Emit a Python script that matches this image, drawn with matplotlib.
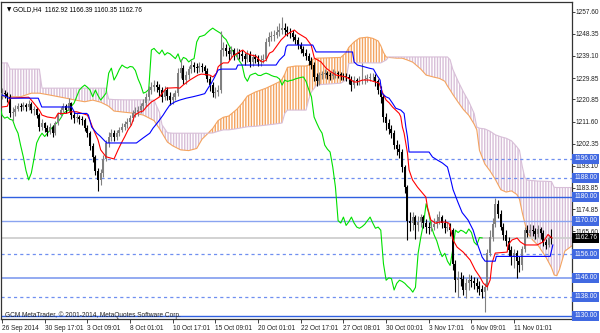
import numpy as np
import matplotlib
matplotlib.use("Agg")
import matplotlib.pyplot as plt
import matplotlib.transforms as mtransforms

# GOLD,H4 candles, one value per bar (bar 0 = 26 Sep 2014)
close = [
    1223.5, 1223, 1222, 1215, 1215.5, 1217, 1218, 1217.5, 1218.5, 1217.5,
    1219, 1216.4, 1216.7, 1214.3, 1209.4, 1210.9, 1208.8, 1207.4, 1209.4, 1206.7,
    1210.9, 1214.3, 1216.4, 1218, 1216.4, 1219.3, 1214.3, 1213, 1213.5, 1212.5,
    1212.2, 1209, 1206.7, 1201.5, 1196.7, 1191, 1187.1, 1190, 1196, 1202.6,
    1205, 1206.7, 1205.3, 1206.7, 1208, 1209.3, 1210.5, 1211.4, 1213, 1215,
    1215.8, 1216.4, 1218, 1219.3, 1222, 1224.8, 1226, 1226.9, 1226, 1224.8,
    1222, 1224.8, 1222.5, 1220.6, 1222, 1223.5, 1231.9, 1234, 1229, 1231,
    1233.5, 1235.3, 1234.5, 1234, 1234.7, 1234.5, 1233, 1229.5, 1226.9, 1223.5,
    1224, 1225, 1241.6, 1242.3, 1241, 1240, 1241.6, 1239.5, 1240.5, 1240,
    1239, 1238, 1240, 1236.6, 1238.5, 1238, 1236.6, 1237.5, 1238, 1245,
    1247.2, 1247.5, 1247.9, 1249, 1250, 1250.8, 1250, 1249.3, 1248.6, 1247,
    1246, 1243.7, 1242, 1240.5, 1239, 1237, 1235.3, 1230.3, 1228.5, 1231,
    1231.5, 1231.9, 1231, 1230.9, 1231.5, 1231.9, 1231.5, 1230.9, 1230.5, 1230.3,
    1229.5, 1226.9, 1229, 1228.4, 1228.8, 1229, 1229.5, 1229.8, 1230.1, 1230.3,
    1228.4, 1225, 1222, 1213.5, 1210.9, 1208.5, 1206.7, 1201.7, 1200, 1198.8,
    1192.5, 1184.1, 1170, 1169, 1171.5, 1168, 1169.5, 1171.5, 1169, 1167.3,
    1166.8, 1167.5, 1168.5, 1170, 1171.5, 1169, 1166.8, 1167.3, 1166, 1152,
    1145, 1146, 1145.7, 1140.9, 1143.7, 1145, 1144.5, 1143.7, 1142.5, 1141.5,
    1140, 1142, 1156.3, 1163, 1168.7, 1177.1, 1173, 1167.3, 1164, 1161.5,
    1157.7, 1154.9, 1156.3, 1153, 1151.2, 1158, 1166, 1165, 1166, 1165.5,
    1164.6, 1166.5, 1165, 1161, 1159.8, 1162.92, 1162.76,
]
high = [
    1225.5, 1225, 1224, 1223, 1217.5, 1218.5, 1219.5, 1219.5, 1220, 1219.5,
    1220.5, 1220, 1218, 1217.5, 1215, 1212.5, 1211.5, 1210, 1211, 1210,
    1212, 1215.5, 1217.5, 1219.5, 1219, 1221.5, 1220, 1215.5, 1215, 1214.5,
    1214, 1213, 1210, 1207.5, 1202.5, 1197.5, 1192, 1191.5, 1197.5, 1204,
    1207, 1208.5, 1208, 1208, 1209.5, 1211, 1212, 1213, 1214.5, 1216.5,
    1217.5, 1218, 1219.5, 1221, 1223.5, 1226.5, 1228, 1229, 1228.5, 1227.5,
    1226, 1226.5, 1226, 1224, 1223.5, 1225, 1234, 1238, 1235.5, 1233,
    1235, 1237.5, 1236.5, 1236, 1236.5, 1236, 1235.5, 1234, 1230.5, 1228,
    1226, 1227, 1249.5, 1245, 1244, 1243, 1243.5, 1242.5, 1242.5, 1242,
    1241.5, 1240.5, 1241.5, 1241, 1240, 1240, 1239.5, 1239.5, 1240, 1246.5,
    1249, 1249.5, 1250, 1251.5, 1253, 1255.5, 1253, 1251.5, 1251, 1250,
    1248.5, 1247, 1245, 1243.5, 1242, 1240.5, 1238.5, 1236.5, 1232, 1232.5,
    1233, 1233.5, 1233, 1232.5, 1233.5, 1233, 1233, 1232.5, 1232, 1232,
    1231.5, 1230.5, 1230.5, 1230, 1230.5, 1236, 1231, 1231.5, 1232, 1232,
    1231.5, 1229.5, 1226.5, 1223, 1215, 1212.5, 1210, 1208, 1204, 1202,
    1200, 1193.5, 1185, 1173.5, 1173.5, 1172.5, 1172, 1173, 1172.5, 1170.5,
    1169.5, 1170, 1171, 1173, 1174, 1172.5, 1170.5, 1169.5, 1169, 1167,
    1153.5, 1149, 1148.5, 1147, 1146, 1147.5, 1147, 1146.5, 1146, 1144.5,
    1143, 1144, 1158, 1166, 1171, 1179.5, 1178.5, 1174.5, 1169, 1166,
    1163, 1159.5, 1158, 1157.5, 1155, 1159.5, 1167.5, 1168, 1168.5, 1168,
    1167, 1168, 1167.5, 1166, 1162.5, 1163.5, 1166.39,
]
low = [
    1221, 1221.5, 1220, 1213.5, 1212, 1214, 1216, 1216, 1216.5, 1216,
    1216.5, 1215, 1214.5, 1213, 1207.5, 1208, 1207, 1205.5, 1206.5, 1205,
    1206, 1210, 1213.5, 1215.5, 1215, 1215.5, 1212.5, 1211, 1211.5, 1210.5,
    1210, 1207.5, 1205, 1199.5, 1194.5, 1189, 1182.5, 1185, 1188.5, 1195,
    1201, 1203.5, 1203.5, 1204, 1205.5, 1207, 1208, 1209, 1210, 1212,
    1213.5, 1214, 1215, 1216.5, 1218, 1220.5, 1223, 1224.5, 1224, 1222.5,
    1220, 1220.5, 1220.5, 1218.5, 1219, 1220.5, 1222.5, 1230, 1227.5, 1227.5,
    1229.5, 1232, 1232.5, 1232, 1232.5, 1232.5, 1231, 1228, 1224.5, 1222,
    1221.5, 1222.5, 1223.5, 1239, 1239, 1237.5, 1238.5, 1237.5, 1238, 1238,
    1237, 1235.5, 1236.5, 1234.5, 1235, 1236, 1235, 1235, 1236, 1237,
    1243.5, 1245.5, 1245.5, 1246.5, 1247.5, 1248.5, 1248, 1247.5, 1246.5, 1245.5,
    1244, 1242, 1240.5, 1239, 1237.5, 1235.5, 1233.5, 1228.5, 1226.5, 1227,
    1229.5, 1230, 1229.5, 1229, 1229.5, 1230, 1230, 1229, 1229, 1228.5,
    1227.5, 1224.5, 1225.5, 1227, 1227, 1227.5, 1227.5, 1228, 1228.5, 1228.5,
    1226.5, 1223, 1219.5, 1211.5, 1208, 1206.5, 1204.5, 1200, 1197.5, 1196.5,
    1190.5, 1181.5, 1162, 1165.5, 1166, 1162.5, 1165.5, 1167.5, 1167, 1165,
    1164.5, 1165.5, 1166, 1167, 1168.5, 1167, 1165, 1165.5, 1163.5, 1149.5,
    1140, 1138, 1142.5, 1139, 1137.5, 1141, 1142, 1141.5, 1140, 1139,
    1137.5, 1131.5, 1141, 1155, 1161.5, 1167.5, 1171, 1166, 1162, 1159.5,
    1155, 1151.5, 1150, 1146, 1148.5, 1149.5, 1157, 1163, 1163.5, 1163.5,
    1162.5, 1163, 1162.5, 1159.5, 1158, 1159, 1160.35,
]
first_open = 1222.5

# Tenkan-sen (red) and Kijun-sen (blue), read as (bar, price) vertices
tenkan_bar = [0, 2, 3, 10, 11, 14, 15, 17, 20, 21, 24, 26, 28, 30, 32, 33, 34, 36, 37, 39,
              42, 43.5, 44.75, 46, 47.25, 48.5, 49.75, 51.6, 52.9, 54.1, 56, 57.25, 59.1, 60.4, 61.6, 65.4,
              66.6, 67.9, 69.1, 70.4, 71.6, 73.5, 74.75, 76.6, 77.9, 79.1, 80.4, 81, 81.6, 82.9, 84.75,
              86.5, 89, 90.25, 91.5, 93.4, 95.25, 96.5, 97.75, 99, 100.25, 101.5, 102.75, 104.6, 106.5,
              108.4, 109.6, 110.9, 112.1, 114, 115.9, 117.1, 118.4, 119.6, 121.5, 123.4, 125.25, 127.1,
              128.9, 130.1, 132, 133.25, 135.1, 137.6, 140, 141.4, 142.75, 144, 145.1, 146.4, 147.6,
              148.9, 149.5, 150.1, 150.75, 152, 152.6, 153.9, 155.75, 157.6, 158.9, 159.5, 160.75, 162.6,
              163.9, 166.4, 167.6, 169.1, 170.6, 172.9, 175.5, 177.4, 179.2, 180.4, 181.9, 183, 183.7,
              184.9, 189.4, 189.7, 191.2, 193.1, 194.3, 196.1, 200.6, 202.9, 204.7, 206.2]
tenkan_val = [1217.7, 1218, 1221.4, 1221.8, 1220.6, 1216.4, 1214.3, 1213.5, 1213, 1215, 1215, 1215.7,
              1215.7, 1215, 1214.3, 1212, 1209, 1203.9, 1199.7, 1196.8,
              1195.9, 1199.7, 1202.6, 1205.2, 1208.1, 1210.1, 1214.3, 1215.6, 1216, 1217.7, 1219.8, 1220.6,
              1222, 1224, 1225.6, 1225.8,
              1225.6, 1226.9, 1227.9, 1229, 1229.8, 1231.1, 1231.5, 1231.3, 1231.1, 1230.3, 1231.9, 1234.5,
              1235.2, 1236.2, 1236.2,
              1239, 1240.8, 1241.6, 1240.3, 1239.5, 1239, 1237.4, 1236.6, 1237.4, 1240.3, 1241, 1242.9,
              1245.8, 1247.9,
              1249.2, 1250, 1248.7, 1247.9, 1246.6, 1243.7, 1238.2, 1237.4, 1236.6, 1234, 1232.4, 1231.1,
              1230.7,
              1230.3, 1229.6, 1228.2, 1228.2, 1229, 1229, 1228.2, 1227.7, 1223.5, 1220.6, 1219.5, 1217.7,
              1216.4,
              1215, 1213.6, 1209.3, 1206.7, 1198.4, 1191.3, 1187.1, 1184.1, 1181.6, 1179.9, 1175.7, 1170.3,
              1168.9,
              1169.4, 1169.4, 1168.9, 1161.9, 1158.9, 1156.8, 1153.5, 1149.3, 1146.3, 1143.8, 1142.2, 1145.1,
              1152.2,
              1156.4, 1156.8, 1159.8, 1161.9, 1162.7, 1161.1, 1159.8, 1159.8, 1161.1, 1164.2, 1162.7]
kijun_bar = [0, 1.75, 2.5, 13.6, 14.9, 26.1, 27.4, 31.75, 32.4, 33.6, 35.5, 36.75, 39.25, 50.4,
             52.9, 55.4, 56.6, 58.5, 60.4, 61.6, 62.9, 64.75, 66.6, 69.1, 71.6, 74.1, 76, 77.25, 78.5,
             79.75, 81, 82.25, 87.75, 88.4, 102.75, 104, 105.9, 106.5, 107.1, 116.5, 117.75, 131.4,
             132, 133.25, 135.1, 137.6, 139.25, 140.5, 141.75, 142.4, 143.9, 145.1, 146.4, 147.6, 149.5,
             150.75, 151.4, 152, 152.6, 160.1, 161.4, 163.25, 165.1, 167, 168.25, 169.1, 171, 172.5,
             174.7, 176.6, 178.1, 180, 181.1, 184.9, 185.3, 205.5, 206.5]
kijun_val = [1222.7, 1222, 1221.4, 1221.4, 1217.7, 1217.7, 1215, 1215, 1214.3, 1209.3, 1206.7, 1205.5,
             1202.6, 1202.6,
             1204.7, 1206.7, 1208.8, 1211.4, 1214.3, 1216.4, 1218.5, 1219.8, 1220.6, 1221.4, 1222, 1222.7,
             1223.3, 1225.6, 1227.7,
             1230.3, 1233.2, 1233.6, 1233.6, 1235.3, 1235.3, 1237.4, 1239.5, 1242.9, 1243.7, 1243.7,
             1240.8, 1240.8,
             1236.6, 1235.3, 1234.8, 1234, 1233.6, 1231.1, 1229, 1223.5, 1222, 1221.4, 1219.3, 1217.2,
             1216.4,
             1215, 1209.3, 1205.2, 1198.8, 1198.8, 1196.7, 1195.4, 1194.2, 1192.5, 1187.1, 1183, 1177.5,
             1173.4,
             1170.3, 1166.1, 1160.6, 1154.7, 1153, 1153, 1155, 1155, 1159.8]

# Senkou span A / B (cloud), read at shared bar positions
cloud_bar = [0, 2, 3, 7, 11, 14, 15, 18, 24, 27, 31, 34, 37, 39, 40, 42, 46, 50, 53, 57,
             58, 59, 60, 62, 64, 67, 70, 73, 75, 77, 79, 81, 83, 85, 88, 90, 92, 95, 99, 102,
             104, 105, 106, 107, 110, 114, 115, 116, 118, 122, 127, 129, 130, 132, 134, 137, 139, 141, 142, 143,
             144, 145, 148, 150, 152, 154, 157, 159, 162, 164, 166, 167, 168, 169, 171, 173, 175, 177, 178, 179,
             181, 183, 185, 187, 189, 191, 193, 194, 195, 196, 197, 199, 201, 204, 206, 207, 208, 209, 211, 213.6]
span_a = [1222, 1222, 1222, 1222, 1223.5, 1223.5, 1223.3, 1222.7, 1221.4, 1220.7, 1219.9, 1220.6, 1219.7,
          1218.6, 1218, 1216, 1215.5, 1215, 1214.3, 1212,
          1210.3, 1208.7, 1206.8, 1203, 1201.4, 1199.7, 1199.4, 1200.3, 1204.2, 1206.4, 1208.7, 1212, 1213.4,
          1213.9, 1216.7, 1219.2, 1222.3, 1224, 1225.6, 1227.2,
          1228.3, 1229.4, 1231.5, 1234.3, 1234.9, 1234.9, 1235.3, 1237.5, 1238.2, 1238.3, 1238.5, 1240.5,
          1242.7, 1245, 1246.6, 1247, 1246.5, 1245.4, 1243.4, 1240.6,
          1238.7, 1238.5, 1238.2, 1238.2, 1237.4, 1236.5, 1233.6, 1231.1, 1230.2, 1229.7, 1228.5, 1226.5,
          1224.8, 1223, 1219.7, 1216.6, 1214.2, 1210.5, 1208.1, 1199.5,
          1193.8, 1190.8, 1187.2, 1183, 1182, 1182.5, 1181, 1179, 1173.6, 1169, 1164.8, 1161.8, 1159.6,
          1154.5, 1150.3, 1147.2, 1146.9, 1149.5, 1157.2, 1159.4]
span_b = [1236.2, 1236.2, 1233.6, 1233.6, 1233.6, 1233.6, 1225.6, 1225.6, 1225.6, 1225.6, 1225.6, 1225.6,
          1225.6, 1225.6, 1221, 1220.8, 1220.7, 1220.7, 1220.7, 1220.6,
          1218, 1215.5, 1210.2, 1206.9, 1206.7, 1206.7, 1206.7, 1206.7, 1206.7, 1206.7, 1206.8, 1207.5,
          1208.1, 1208.1, 1208.6, 1209, 1209.4, 1209.6, 1210.1, 1210.5,
          1210.8, 1211, 1215, 1216.4, 1216.4, 1216.4, 1221, 1224, 1227, 1227.3, 1227.7, 1229, 1236, 1236.2,
          1236.2, 1236.2, 1236.2, 1236.2, 1236.2, 1236.8,
          1237.4, 1238.7, 1238.7, 1238.7, 1238.7, 1238.7, 1238.7, 1238.7, 1238.7, 1238.7, 1238.7, 1238.7,
          1237.5, 1233.5, 1228.5, 1224, 1220, 1215, 1209.3, 1208.8,
          1208.5, 1207.5, 1206, 1205.2, 1204.6, 1203.5, 1201, 1199.5, 1193, 1188, 1187, 1186.8, 1186.6,
          1186.5, 1186.4, 1184, 1183.9, 1183.9, 1183.9, 1183.9]
chikou_shift = 26

# horizontal levels drawn on the chart
solid_levels = [1180, 1170, 1146, 1130]
dashed_levels = [1196, 1188, 1156, 1138]
bid_price = 1162.76
scale_labels = [1257.60, 1248.35, 1239.10, 1229.85, 1220.85, 1211.60, 1202.35, 1193.10,
                1183.85, 1174.85, 1165.60, 1147.10]

date_bars = [0, 16, 32, 48, 64, 80, 96, 112, 128, 144, 160, 176, 192]
date_labels = ["26 Sep 2014", "30 Sep 17:01", "3 Oct 09:01", "8 Oct 01:01", "10 Oct 17:01",
               "15 Oct 09:01", "20 Oct 01:01", "22 Oct 17:01", "27 Oct 08:01", "30 Oct 00:01",
               "3 Nov 17:01", "6 Nov 09:01", "11 Nov 01:01"]

plt.rcParams['font.family'] = ['Liberation Sans', 'DejaVu Sans']
FS = 4.7

fig = plt.figure(figsize=(6, 3.33), dpi=100)
ax = fig.add_axes([1 / 600, 1 - 319 / 333, 570.5 / 600, 317 / 333])
ax.set_xlim(-0.375, 213.5)
ax.set_ylim(1128.73, 1261.76)

c = np.array(close)
h = np.array(high)
l = np.array(low)
o = np.concatenate([[first_open], c[:-1]])
bars = np.arange(len(c))

# cloud
cb = np.array(cloud_bar)
sa = np.array(span_a)
sb = np.array(span_b)
ax.fill_between(cb, sa, sb, where=sa >= sb, interpolate=True, facecolor='none',
                edgecolor='#f4a460', hatch='||||||', linewidth=0, zorder=1)
ax.fill_between(cb, sa, sb, where=sa < sb, interpolate=True, facecolor='none',
                edgecolor='#d8bfd8', hatch='||||||', linewidth=0, zorder=1)
ax.plot(cb, sa, color='#f4a460', lw=0.8, zorder=2)
ax.plot(cb, sb, color='#d8bfd8', lw=0.8, zorder=2)

# levels
for lv in solid_levels:
    col = '#3060e0' if lv in (1180, 1130) else '#8aa4f0'
    ax.axhline(lv, color=col, lw=1.3 if lv == 1146 else 1.0, zorder=2)
for lv in dashed_levels:
    ax.axhline(lv, color='#6f8ff0', lw=0.9, ls=(0, (2.5, 2.5)), zorder=2)
ax.axhline(bid_price, color='#cfcfcf', lw=1.3, zorder=2)

# chikou span
ax.plot(bars - chikou_shift, c, color='#00e000', lw=0.8, zorder=3)

# candles
bull = c >= o
for up, col in ((True, '#808080'), (False, '#000000')):
    m = bull == up
    ax.vlines(bars[m], l[m], h[m], color=col, lw=0.8, zorder=4)
    body = np.maximum(np.abs(c[m] - o[m]), 0.35)
    ax.bar(bars[m], body, bottom=np.minimum(c[m], o[m]), width=0.75,
           color=col, linewidth=0, zorder=4)

ax.plot(tenkan_bar, tenkan_val, color='#ff0000', lw=0.8, zorder=5)
ax.plot(kijun_bar, kijun_val, color='#0000ff', lw=0.8, zorder=5)

# axes look
for s in ax.spines.values():
    s.set_color('#333333')
    s.set_linewidth(0.9)
ax.yaxis.tick_right()
ax.set_yticks(scale_labels)
ax.set_yticklabels([f"{v:.2f}" for v in scale_labels])
ax.tick_params(axis='y', length=2, width=0.6, pad=1.2, labelsize=FS, colors='#222222')
ax.set_xticks(date_bars)
ax.set_xticklabels(date_labels)
ax.tick_params(axis='x', length=3, width=0.6, pad=1.5, labelsize=FS, colors='#222222')
for lab in ax.get_xticklabels():
    lab.set_horizontalalignment('left')

# price tags on the right
tr = mtransforms.blended_transform_factory(ax.transAxes, ax.transData)
for lv in solid_levels + dashed_levels:
    ax.text(1.0045, lv, f"{lv:.2f}", transform=tr, fontsize=FS, color='white',
            va='center', ha='left', zorder=10, clip_on=False,
            bbox=dict(boxstyle='square,pad=0.25', fc='#4169e1', ec='none'))
ax.text(1.0045, bid_price, f"{bid_price:.2f}", transform=tr, fontsize=FS, color='white',
        va='center', ha='left', zorder=10, clip_on=False,
        bbox=dict(boxstyle='square,pad=0.25', fc='#000000', ec='none'))

fig.text(7 / 600, 1 - 10 / 333, '\u25bc', fontsize=4, color='black', va='center',
         family='DejaVu Sans')
fig.text(13 / 600, 1 - 10 / 333, 'GOLD,H4  1162.92 1166.39 1160.35 1162.76',
         fontsize=FS, color='black', va='center')
fig.text(5 / 600, 1 - 315.5 / 333, 'GCM MetaTrader, \u00a9 2001-2014, MetaQuotes Software Corp.',
         fontsize=FS, color='#222222', va='center', zorder=20)

fig.savefig('out.png', dpi=100)
